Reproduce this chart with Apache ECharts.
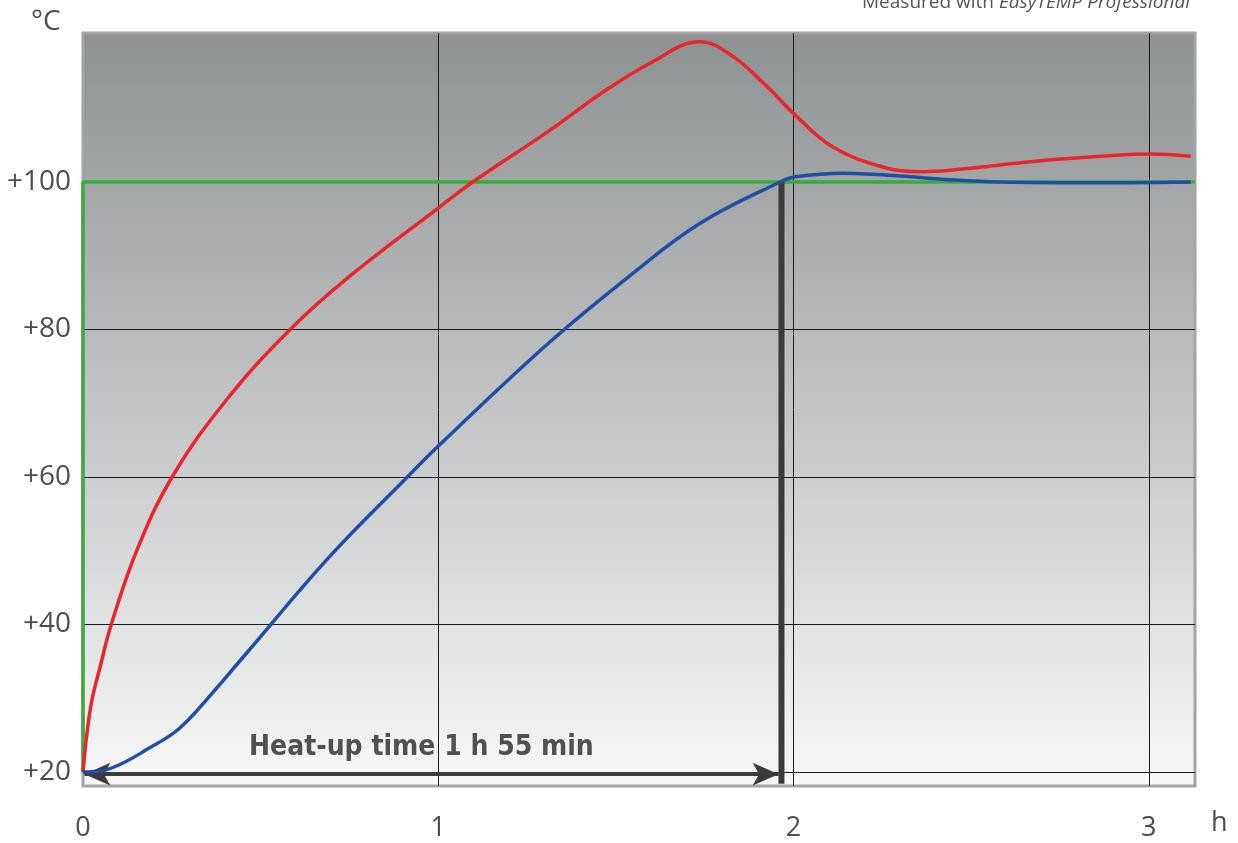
<!DOCTYPE html>
<html>
<head>
<meta charset="utf-8">
<title>Heat-up time</title>
<script src="https://cdn.jsdelivr.net/npm/echarts@6/dist/echarts.min.js"></script>
<style>
  html, body { margin: 0; padding: 0; background: #fff; }
  #chart { width: 1238px; height: 843px; }
</style>
</head>
<body>
<div id="chart"></div>
<script>
// axis ticks
var hourTicks = [0, 1, 2, 3];
var tempTicks = [20, 40, 60, 80, 100];

// red curve (heating medium)
var redTime = [0, 0.0113, 0.0254, 0.0479, 0.0789, 0.152, 0.251, 0.403, 0.581, 0.750, 0.998, 1.097, 1.314, 1.455, 1.596, 1.737, 1.830, 1.926, 2.004, 2.112, 2.253, 2.348, 2.442, 2.582, 2.723, 2.864, 3.005, 3.118];
var redTemp = [20, 25.3, 29.8, 34.2, 39.9, 50.1, 60.0, 70.4, 79.9, 87.2, 96.4, 100.0, 107.0, 111.9, 116.1, 119.0, 117.0, 112.9, 109.1, 104.7, 102.0, 101.4, 101.6, 102.3, 103.0, 103.5, 103.8, 103.5];

// blue curve (product temperature)
var blueTime = [0, 0.045, 0.101, 0.178, 0.271, 0.364, 0.46, 0.694, 0.913, 0.998, 1.314, 1.545, 1.737, 1.962, 2.005, 2.140, 2.301, 2.441, 2.582, 2.864, 3.118];
var blueTemp = [20, 20.1, 20.95, 23.0, 25.9, 30.7, 36.1, 49.2, 60.0, 64.1, 78.3, 87.5, 94.4, 100.0, 100.7, 101.2, 100.8, 100.3, 100.0, 99.9, 100.0];

// green setpoint
var setTime = [0, 0, 3.13];
var setTemp = [20, 100, 100];

// heat-up marker
var heatUpEnd = 1.966;
var heatUpLabel = 'Heat-up time 1 h 55 min';

function pairs(xs, ys) {
  return xs.map(function (x, i) { return [x, ys[i]]; });
}

var chart = echarts.init(document.getElementById('chart'));

var option = {
  animation: false,
  grid: {
    left: 83, top: 33, right: 43, bottom: 57,
    show: true,
    borderColor: '#a4a4a8',
    borderWidth: 3,
    backgroundColor: new echarts.graphic.LinearGradient(0, 0, 0, 1, [
      { offset: 0, color: '#8e9192' },
      { offset: 0.5, color: '#c2c4c5' },
      { offset: 1, color: '#f8f8f8' }
    ])
  },
  xAxis: {
    type: 'value',
    min: 0,
    max: 3.13,
    axisLine: { show: false },
    axisTick: { show: false, customValues: [1, 2, 3] },
    axisLabel: {
      customValues: hourTicks,
      margin: 29,
      fontSize: 27,
      color: '#4d4d4d',
      fontFamily: 'Open Sans'
    },
    splitLine: { show: true, lineStyle: { color: '#1a1a1a', width: 1 } }
  },
  yAxis: {
    type: 'value',
    min: 18.1,
    max: 120.2,
    axisLine: { show: false },
    axisTick: { show: false, customValues: tempTicks },
    axisLabel: {
      customValues: tempTicks,
      margin: 12,
      fontSize: 28,
      color: '#4d4d4d',
      fontFamily: 'Open Sans',
      formatter: function (v) { return '+' + v; }
    },
    splitLine: { show: true, lineStyle: { color: '#1a1a1a', width: 1 } }
  },
  series: [
    {
      name: 'setpoint',
      type: 'line',
      data: pairs(setTime, setTemp),
      showSymbol: false,
      clip: false,
      lineStyle: { color: '#3bab3a', width: 3.5 },
      z: 2
    },
    {
      name: 'heat-up',
      type: 'line',
      data: [[heatUpEnd, 100], [heatUpEnd, 18.4]],
      showSymbol: false,
      lineStyle: { color: '#3b3b3b', width: 6 },
      z: 3,
      markLine: {
        silent: true,
        symbol: ['arrow', 'arrow'],
        symbolSize: [17, 26],
        label: { show: false },
        lineStyle: { color: '#3b3b3b', width: 4, type: 'solid' },
        data: [[{ coord: [0.004, 19.7] }, { coord: [heatUpEnd - 0.008, 19.7] }]]
      }
    },
    {
      name: 'red',
      type: 'line',
      data: pairs(redTime, redTemp),
      showSymbol: false,
      smooth: 0.4,
      lineStyle: { color: '#e8262b', width: 3.5 },
      z: 4
    },
    {
      name: 'blue',
      type: 'line',
      data: pairs(blueTime, blueTemp),
      showSymbol: false,
      smooth: 0.4,
      lineStyle: { color: '#1f4fa5', width: 3.5 },
      z: 5
    }
  ],
  graphic: [
    {
      type: 'text', left: 31, top: 8, z: 10,
      style: { text: '°C', fontSize: 28, fill: '#4d4d4d', fontFamily: 'Open Sans' }
    },
    {
      type: 'text', left: 1211, top: 810, z: 10,
      style: { text: 'h', fontSize: 27, fill: '#4d4d4d', fontFamily: 'Open Sans' }
    },
    {
      type: 'text', right: 48, top: -7, z: 10,
      style: {
        text: '{a|Measured with }{b|EasyTEMP Professional}',
        rich: {
          a: { fontSize: 19, fill: '#555', fontFamily: 'Open Sans' },
          b: { fontSize: 19, fill: '#555', fontFamily: 'Open Sans', fontStyle: 'italic' }
        }
      }
    },
    {
      type: 'text', left: 249, top: 734, z: 10,
      style: {
        text: heatUpLabel,
        fontSize: 28,
        fontWeight: 'bold',
        fill: '#505050',
        fontFamily: 'DejaVu Sans Condensed'
      }
    }
  ]
};

chart.setOption(option);
</script>
</body>
</html>
